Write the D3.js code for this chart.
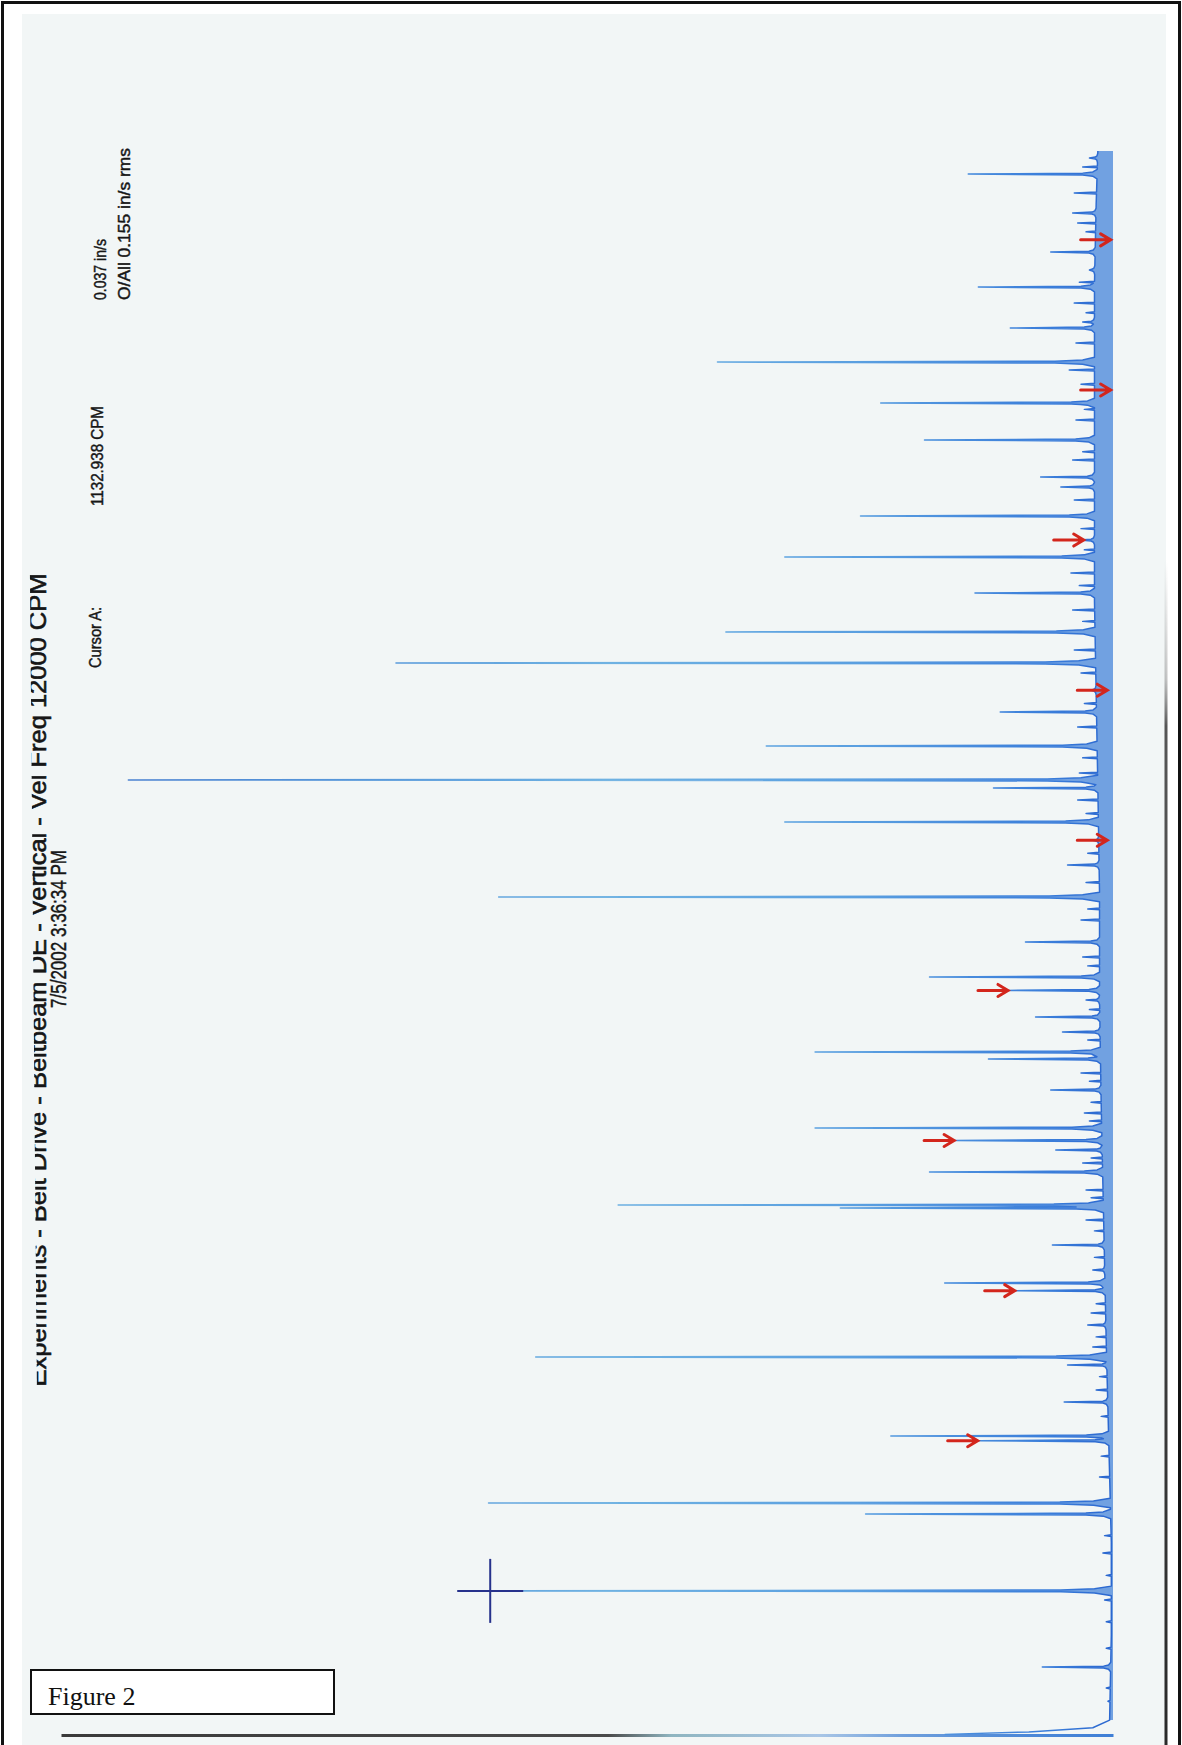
<!DOCTYPE html>
<html>
<head>
<meta charset="utf-8">
<script src="https://cdn.jsdelivr.net/npm/d3@7"></script>
<style>
  html, body { margin: 0; padding: 0; background: #ffffff; }
  svg { display: block; }
</style>
</head>
<body>
<svg id="chart" width="1182" height="1745"></svg>
<script>
// ---- header text ----
const titleText = "Experiments - Belt Drive - Beltbeam DE - Vertical - Vel Freq 12000 CPM";
const dateText = "7/5/2002 3:36:34 PM";
const cursorLabel = "Cursor A:";
const cursorFreq = 1132.938;   // CPM
const cursorAmp = 0.037;       // in/s
const overallRms = 0.155;      // in/s rms
const figureLabel = "Figure 2";

// ---- axis spans ----
const freqDomain = [0, 12000];     // CPM
const ampDomain = [0, 0.0625];     // in/s

// ---- spectral lines: frequency (CPM) and velocity amplitude (in/s) ----
const peakFreqs = [11947, 11826, 11532, 11237, 11102, 10973, 10709, 10664, 10407, 10098,
                   9819, 9539, 9464, 9245, 9063.5, 8936, 8664, 8370, 8136, 7930.6,
                   7766, 7509, 7253, 7192, 6936, 6797.6, 6611, 6370, 6030, 5766,
                   5664.7, 5592, 5464, 5351, 5200, 5147, 4913, 4626, 4531.8, 4460,
                   4294, 4045, 4023, 3743, 3555, 3457, 3398.8, 3140, 2898, 2838,
                   2558, 2302, 2265.9, 1796, 1713, 1132.938, 558];
const peakAmps  = [0.0014, 0.0086, 0.0024, 0.0037, 0.0014, 0.0080, 0.0018, 0.0061, 0.0235, 0.0138,
                   0.0112, 0.0043, 0.0031, 0.0150, 0.0020, 0.0195, 0.0082, 0.0230, 0.0426, 0.0013,
                   0.0067, 0.0206, 0.0585, 0.0071, 0.0195, 0.0012, 0.0027, 0.0365, 0.0052, 0.0109,
                   0.0063, 0.0016, 0.0046, 0.0030, 0.0177, 0.0074, 0.0037, 0.0177, 0.0095, 0.0034,
                   0.0109, 0.0294, 0.0162, 0.0036, 0.0012, 0.0100, 0.0059, 0.0015, 0.0343, 0.0027,
                   0.0029, 0.0132, 0.0081, 0.0371, 0.0147, 0.0370, 0.0042];

// ---- small lines standing just above the noise band ----
const minorFreqs = [11880, 11683, 11456, 11390, 11010, 10852, 10780, 10551, 10347, 10240,
                    10050, 9970, 9730, 9668, 9366, 9150, 8990, 8815, 8720, 8536,
                    8450, 8234, 8060, 7830, 7653, 7420, 7305, 7102, 7000, 6700,
                    6480, 6280, 6196, 5917, 5850, 5520, 5290, 5041, 4980, 4820,
                    4740, 4680, 4400, 4362, 4158, 4100, 3932, 3850, 3650, 3300,
                    3230, 3050, 2974, 2750, 2649, 2450, 2150, 1992, 1550, 1419,
                    1250, 1064, 900, 700, 400, 300];
const minorAmps  = [0.0018, 0.0023, 0.0021, 0.0016, 0.0020, 0.0023, 0.0016, 0.0022, 0.0026, 0.0019,
                    0.0017, 0.0022, 0.0018, 0.0024, 0.0023, 0.0019, 0.0017, 0.0025, 0.0020, 0.0024,
                    0.0018, 0.0023, 0.0019, 0.0017, 0.0021, 0.0018, 0.0020, 0.0021, 0.0016, 0.0015,
                    0.0016, 0.0015, 0.0019, 0.0018, 0.0015, 0.0014, 0.0015, 0.0019, 0.0014, 0.0013,
                    0.0017, 0.0014, 0.0013, 0.0018, 0.0016, 0.0013, 0.0016, 0.0011, 0.0011, 0.0010,
                    0.0013, 0.0010, 0.0012, 0.0008, 0.0010, 0.0007, 0.0007, 0.0008, 0.0005, 0.0006,
                    0.0004, 0.0005, 0.0004, 0.0004, 0.0004, 0.0003];

// ---- noise floor envelope (in/s) ----
const floorFreqs = [50, 68, 100, 158, 800, 1500, 2000, 2500, 3000, 3600, 4200, 4800,
                    5600, 6400, 7200, 7900, 8600, 9400, 10200, 11000, 11600, 12000];
const floorAmps  = [0.0100, 0.0050, 0.0012, 0.0002, 0.0001, 0.0001, 0.0002, 0.0003,
                    0.0004, 0.0005, 0.0006, 0.0007, 0.0008, 0.0008, 0.0009, 0.0010,
                    0.0011, 0.0011, 0.0011, 0.0011, 0.0010, 0.0009];

// ---- marked harmonics (red arrows): frequency and amplitude pointed at ----
const arrowFreqs = [2265.9, 3398.8, 4531.8, 5664.7, 6797.6, 7930.6, 9063.5, 10196.4, 11329.4];
const arrowAmps  = [0.0081, 0.0059, 0.0095, 0.0063, 0.0004, 0.0004, 0.0018, 0.0002, 0.0002];

// ==========================================================
const W = 1182, H = 1745;
const svg = d3.select("#chart");
const defs = svg.append("defs");

// scales: frequency runs bottom-to-top, amplitude grows to the left
const y = d3.scaleLinear().domain(freqDomain).range([1741, 151]);
const x = d3.scaleLinear().domain(ampDomain).range([1113, 61]);

// page background
svg.append("rect").attr("width", W).attr("height", H).attr("fill", "#ffffff");
svg.append("rect").attr("x", 22).attr("y", 14).attr("width", 1144).attr("height", H - 14)
  .attr("fill", "#f2f6f6");

// right-hand page edge
const edgeGrad = defs.append("linearGradient").attr("id", "edgeGrad")
  .attr("gradientUnits", "userSpaceOnUse").attr("x1", 0).attr("y1", 560).attr("x2", 0).attr("y2", H);
edgeGrad.append("stop").attr("offset", 0).attr("stop-color", "#9a9a9a").attr("stop-opacity", 0);
edgeGrad.append("stop").attr("offset", 0.1).attr("stop-color", "#888").attr("stop-opacity", 0.5);
edgeGrad.append("stop").attr("offset", 0.14).attr("stop-color", "#444").attr("stop-opacity", 0.9);
edgeGrad.append("stop").attr("offset", 1).attr("stop-color", "#2a2a2a").attr("stop-opacity", 1);
svg.append("line").attr("x1", 1166).attr("x2", 1166).attr("y1", 560).attr("y2", H)
  .attr("stroke", "url(#edgeGrad)").attr("stroke-width", 3);

// ---- header text (printed sideways) ----
defs.append("clipPath").attr("id", "pageCut")
  .append("polygon").attr("points", "25,0 1182,0 1182,1745 40,1745");

const header = svg.append("g").attr("clip-path", "url(#pageCut)")
  .attr("font-family", "'Liberation Sans', Arial, sans-serif")
  .attr("fill", "#161616").attr("stroke", "#161616").attr("stroke-width", 0.45);

function sideText(g, px, py, txt, size, anchor, len) {
  const t = g.append("text")
    .attr("transform", `translate(${px},${py}) rotate(-90)`)
    .attr("text-anchor", anchor)
    .attr("font-size", size)
    .text(txt);
  if (len) t.attr("textLength", len).attr("lengthAdjust", "spacingAndGlyphs");
  return t;
}

sideText(header, 46, 980, titleText, 24, "middle", 813).attr("stroke-width", 0.6);
sideText(header, 66, 929, dateText, 22, "middle", 158);
sideText(header, 101, 668, cursorLabel, 17, "start", 61);
sideText(header, 103, 506, `${cursorFreq.toFixed(3)} CPM`, 17, "start", 100);
sideText(header, 106, 300, `${cursorAmp.toFixed(3)} in/s`, 17, "start", 61);
sideText(header, 130, 300, `O/All ${overallRms.toFixed(3)} in/s rms`, 17, "start", 152);

// ---- spectrum ----
const floorAt = d3.scaleLinear().domain(floorFreqs).range(floorAmps).clamp(true);

const lines = peakFreqs.map((f, i) => ({ f, a: peakAmps[i], major: true }))
  .concat(minorFreqs.map((f, i) => ({ f, a: minorAmps[i], major: false })));

// each line is a narrow spike with a short leakage skirt at its foot
const offs = [-36, -16, -7, 0, 7, 16, 36];
function lineShape(L, f) {
  const d = f - L.f;
  if (d <= offs[0] || d >= offs[offs.length - 1]) return 0;
  const fl = floorAt(f);
  const sk1 = L.major ? Math.min(0.0030, 0.1 * L.a) : 0;
  const sk2 = L.major ? Math.min(0.0010, 0.03 * L.a) : 0;
  const vals = [fl, fl + sk2, fl + sk1, L.a, fl + sk1, fl + sk2, fl];
  for (let k = 0; k < offs.length - 1; k++) {
    if (d >= offs[k] && d <= offs[k + 1]) {
      const t = (d - offs[k]) / (offs[k + 1] - offs[k]);
      return vals[k] + t * (vals[k + 1] - vals[k]);
    }
  }
  return 0;
}

let fs = floorFreqs.slice();
lines.forEach(L => offs.forEach(o => fs.push(L.f + o)));
fs = Array.from(new Set(fs.filter(f => f >= floorFreqs[0] && f <= 12000))).sort((a, b) => a - b);
const spectrum = fs.map(f => {
  let a = floorAt(f);
  for (const L of lines) a = Math.max(a, lineShape(L, f));
  return { f, a };
});

const specGrad = defs.append("linearGradient").attr("id", "specGrad")
  .attr("gradientUnits", "userSpaceOnUse").attr("x1", 1113).attr("y1", 0).attr("x2", 100).attr("y2", 0);
[[0, "#2a66cf"], [0.06, "#3a7dda"], [0.25, "#5a9fe0"], [0.5, "#6fb2e2"], [0.75, "#5898da"], [1, "#4a80d0"]]
  .forEach(([o, c]) => specGrad.append("stop").attr("offset", o).attr("stop-color", c));

const plot = svg.append("g");

// amplitude axis along the zero-frequency edge
const axisGrad = defs.append("linearGradient").attr("id", "axisGrad")
  .attr("gradientUnits", "userSpaceOnUse").attr("x1", 61).attr("y1", 0).attr("x2", 1113).attr("y2", 0);
[[0, "#3a3a3a"], [0.52, "#4a4a4a"], [0.58, "#8fb5c0"], [0.72, "#a9c6e6"], [0.8, "#6f9fdc"], [0.9, "#4f8ad8"], [1, "#3f7fd6"]]
  .forEach(([o, c]) => axisGrad.append("stop").attr("offset", o).attr("stop-color", c));
const ampAxis = plot.append("g").attr("transform", `translate(0,${y(0) - 6})`)
  .call(d3.axisBottom(x).tickValues([]).tickSize(0).tickSizeOuter(0));
ampAxis.select(".domain").attr("stroke", "url(#axisGrad)").attr("stroke-width", 3);

// shaded band under the trace (above the low-frequency roll-off)
plot.append("path").datum(spectrum.filter(d => d.f >= 150))
  .attr("d", d3.area().y(d => y(d.f)).x0(x(0)).x1(d => x(d.a)))
  .attr("fill", "#3f7fd8").attr("fill-opacity", 0.72);

plot.append("path").datum(spectrum)
  .attr("d", d3.line().x(d => x(d.a)).y(d => y(d.f)))
  .attr("fill", "none").attr("stroke", "url(#specGrad)")
  .attr("stroke-width", 1.5).attr("stroke-linejoin", "round");

// cursor A cross-hair
const cx = x(cursorAmp), cy = y(cursorFreq);
const cross = plot.append("g").attr("stroke", "#27328c").attr("stroke-width", 2);
cross.append("line").attr("x1", cx).attr("x2", cx).attr("y1", cy - 32).attr("y2", cy + 32);
cross.append("line").attr("x1", cx - 33).attr("x2", cx + 33).attr("y1", cy).attr("y2", cy);

// red harmonic markers
const arrows = plot.append("g").attr("stroke", "#d3261c").attr("stroke-width", 3)
  .attr("fill", "none").attr("stroke-linecap", "round");
arrowFreqs.forEach((f, i) => {
  const tx = x(arrowAmps[i]) + 1, ty = y(f);
  arrows.append("path")
    .attr("d", `M${tx - 30},${ty} L${tx - 1},${ty} M${tx - 10},${ty - 6} L${tx},${ty} L${tx - 10},${ty + 6}`);
});

// ---- figure caption box ----
svg.append("rect").attr("x", 31).attr("y", 1670).attr("width", 303).attr("height", 44)
  .attr("fill", "#ffffff").attr("stroke", "#111").attr("stroke-width", 2);
svg.append("text").attr("x", 48).attr("y", 1705)
  .attr("font-family", "'Liberation Serif', 'Times New Roman', serif")
  .attr("font-size", 26).attr("fill", "#111").text(figureLabel);

// outer frame (open at the foot of the page)
svg.append("path").attr("d", `M2.5,${H} V2.5 H${W - 2.5} V${H}`)
  .attr("fill", "none").attr("stroke", "#111").attr("stroke-width", 3);
</script>
</body>
</html>
